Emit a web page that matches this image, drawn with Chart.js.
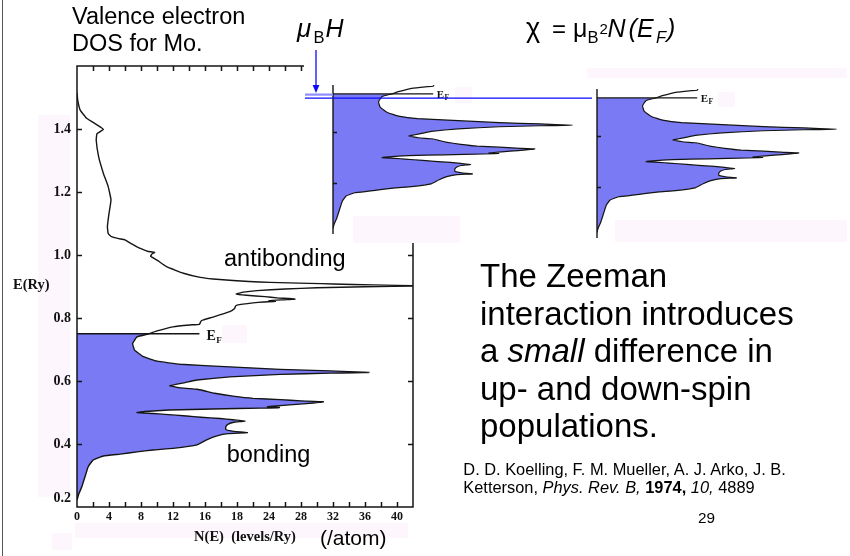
<!DOCTYPE html>
<html>
<head>
<meta charset="utf-8">
<script src="https://cdn.jsdelivr.net/npm/chart.js@4.4.1/dist/chart.umd.min.js"></script>
<style>
  html, body { margin: 0; padding: 0; background: #fff; overflow: hidden; }
  #slide { position: relative; width: 850px; height: 556px; overflow: hidden; background: #fff; }
  .abs { position: absolute; left: 0; top: 0; }
  svg text { font-family: "Liberation Sans", Arial, sans-serif; fill: #000; }
  svg text.serif { font-family: "Liberation Serif", "Times New Roman", serif; font-weight: bold; fill: #111; }
  svg text.it { font-style: italic; }
</style>
</head>
<body>
<div id="slide">
  <!-- faint label patches and the slide's left rule -->
  <svg class="abs" width="850" height="556">
    <line x1="2.5" y1="0" x2="2.5" y2="556" stroke="#555" stroke-width="1"/>
    <g fill="#fdf7fd">
      <rect x="38" y="115" width="32" height="382"/>
      <rect x="75" y="523" width="333" height="15"/>
      <rect x="52" y="533" width="20" height="17"/>
      <rect x="222" y="325" width="25" height="18"/>
    </g>
  </svg>

  <canvas id="dosMain" class="abs" width="850" height="556"></canvas>

  <div class="abs" style="left:303.5px;top:58px;width:547px;height:185px;background:#fff"></div>
  <svg class="abs" width="850" height="556">
    <g fill="#fdf7fd">
      <rect x="353" y="216" width="107" height="27"/>
      <rect x="615" y="220" width="232" height="22"/>
      <rect x="587" y="68" width="260" height="10"/>
      <rect x="455" y="87" width="17" height="16"/>
      <rect x="718" y="92" width="17" height="15"/>
    </g>
  </svg>

  <canvas id="dosSpinUp" class="abs" width="264" height="149" style="left:331px;top:85px"></canvas>
  <canvas id="dosSpinDown" class="abs" width="264" height="149" style="left:595px;top:89px"></canvas>

  <svg class="abs" width="850" height="556">
    <!-- Zeeman shift markers -->
    <line x1="305" y1="94.6" x2="333" y2="94.6" stroke="#8c8cff" stroke-width="2.2"/>
    <line x1="305" y1="98.2" x2="592" y2="98.2" stroke="#0a0aff" stroke-width="1.3"/>
    <line x1="316" y1="50" x2="316" y2="87" stroke="#0a0aff" stroke-width="1.3"/>
    <polygon points="312.6,85 319.4,85 316,93" fill="#0a0aff"/>

    <text x="72" y="24" font-size="23.5">Valence electron</text>
    <text x="72" y="50.7" font-size="23.5">DOS for Mo.</text>

    <!-- μB H -->
    <text class="it" x="297" y="37.3" font-size="26">μ</text>
    <text x="313.5" y="43.3" font-size="16.5">B</text>
    <text class="it" x="325.5" y="37.3" font-size="25">H</text>

    <!-- χ = μB² N(E_F) -->
    <text x="526" y="37.3" font-size="27">χ</text>
    <text x="552" y="37.3" font-size="24">=</text>
    <text x="573" y="37.3" font-size="25">μ</text>
    <text x="587.5" y="43.3" font-size="16.5">B</text>
    <text x="599.5" y="34" font-size="15">2</text>
    <text class="it" x="607.5" y="37.3" font-size="25">N</text>
    <text class="it" x="628.5" y="37.3" font-size="25">(</text>
    <text class="it" x="637" y="37.3" font-size="25">E</text>
    <text class="it" x="656" y="43.3" font-size="16.5">F</text>
    <text class="it" x="667" y="37.3" font-size="25">)</text>

    <text x="224" y="266" font-size="23.5">antibonding</text>
    <text x="226.7" y="461.7" font-size="23.5">bonding</text>

    <text x="480" y="287.3" font-size="33">The Zeeman</text>
    <text x="480" y="324.7" font-size="33">interaction introduces</text>
    <text x="480" y="362.1" font-size="33">a <tspan font-style="italic">small</tspan> difference in</text>
    <text x="480" y="399.5" font-size="33">up- and down-spin</text>
    <text x="480" y="436.9" font-size="33">populations.</text>

    <text x="463.3" y="475" font-size="16.4">D. D. Koelling, F. M. Mueller, A. J. Arko, J. B.</text>
    <text x="463.3" y="493.3" font-size="16.4">Ketterson, <tspan font-style="italic">Phys. Rev. B,</tspan> <tspan font-weight="bold">1974,</tspan> <tspan font-style="italic">10,</tspan> 4889</text>

    <text x="698" y="522.7" font-size="15.3">29</text>
    <text x="320" y="545" font-size="21">(/atom)</text>

    <text class="serif" x="13" y="289" font-size="14.5">E(Ry)</text>
  </svg>
</div>

<script>
// Valence-band density of states of Mo: energy (Ry) and N(E) (levels/Ry per atom)
const energies = [0.222,0.240,0.264,0.296,0.328,0.349,0.362,0.368,0.375,0.381,0.386,0.397,0.413,0.426,0.433,0.436,0.440,0.446,0.455,0.463,0.469,0.473,0.477,0.481,0.485,0.489,0.494,0.497,0.500,0.503,0.508,0.511,0.514,0.516,0.518,0.520,0.525,0.530,0.534,0.537,0.541,0.545,0.552,0.561,0.567,0.570,0.574,0.578,0.585,0.595,0.603,0.613,0.621,0.625,0.627,0.632,0.637,0.645,0.653,0.663,0.677,0.698,0.719,0.740,0.750,0.759,0.772,0.778,0.780,0.790,0.794,0.803,0.820,0.830,0.837,0.841,0.848,0.851,0.853,0.855,0.858,0.860,0.864,0.868,0.872,0.876,0.882,0.887,0.892,0.896,0.899,0.902,0.905,0.908,0.910,0.913,0.916,0.919,0.924,0.929,0.942,0.963,0.984,0.996,1.004,1.008,1.012,1.020,1.026,1.040,1.048,1.052,1.058,1.068,1.090,1.132,1.175,1.217,1.259,1.312,1.365,1.385,1.399,1.405,1.413,1.434,1.460,1.490,1.515];
const dosValues = [0,0.2,0.6,1.0,1.4,2.0,3.3,5.4,7.5,9.5,12.0,15.0,16.2,17.5,18.9,21.3,19.6,18.6,18.6,18.9,19.6,21.0,19.5,17.9,15.5,13.7,11.0,9.5,7.5,8.5,11.5,17.0,23.0,25.3,23.8,24.5,27.0,29.5,30.8,28.0,25.4,22.0,19.5,17.2,16.2,15.8,15.0,13.0,11.6,13.5,15.0,19.1,25.4,31.6,36.5,31.6,25.4,19.1,12.9,10.0,8.3,7.2,6.95,7.5,9.0,10.0,12.0,14.1,15.3,15.5,15.8,17.0,19.1,19.7,19.8,20.0,22.0,23.3,24.8,24.0,26.0,27.25,25.0,23.5,21.2,19.9,20.8,22.5,26.0,30.0,36.0,43.0,37.0,32.0,29.0,24.1,21.5,19.5,17.0,15.4,13.3,11.2,10.0,9.2,9.4,9.7,8.8,8.0,7.5,6.5,6.0,5.2,4.3,3.9,3.8,4.0,4.25,3.9,3.3,2.7,2.4,2.5,3.3,3.0,2.5,1.2,0.4,0.1,0];

const fermiEnergy = 0.75;     // Ry
const fermiLineEnd = 15.3;    // length of the E_F marker, levels/Ry

const xTickLabels = ['0','4','8','12','16','18','24','28','32','36','40'];
const yTickLabels = ['0.2','0.4','0.6','0.8','1.0','1.2','1.4'];
const xAxisTitle = 'N(E)  (levels/Ry)';

const fillBlue = '#7a7af4';
const inkColor = '#151515';

const dosPoints = energies.map((e, i) => ({ x: dosValues[i], y: e }));
const occupiedPoints = dosPoints.filter(p => p.y <= fermiEnergy);

Chart.defaults.font.family = "'Liberation Serif', 'Times New Roman', serif";
Chart.defaults.color = '#111';

// Frame, inward tick marks and the Fermi-level marker
const dosFrame = {
  id: 'dosFrame',
  afterDatasetsDraw(chart, args, o) {
    const { ctx, chartArea: a, scales: { x, y } } = chart;
    ctx.save();
    ctx.strokeStyle = inkColor;
    ctx.lineWidth = o.lineWidth;
    ctx.beginPath();
    if (o.box) {
      ctx.rect(a.left, a.top, a.right - a.left, a.bottom - a.top);
    } else {
      ctx.moveTo(a.left, a.top);
      ctx.lineTo(a.left, a.bottom);
    }
    ctx.stroke();

    const L = o.tickLen;
    ctx.beginPath();
    if (o.box) {
      for (const t of x.ticks) {
        if (t.value <= x.min + 1e-9 || t.value >= x.max - 1e-9) continue;
        const px = Math.round(x.getPixelForValue(t.value)) + 0.5;
        ctx.moveTo(px, a.bottom); ctx.lineTo(px, a.bottom - L);
        ctx.moveTo(px, a.top);    ctx.lineTo(px, a.top + L);
      }
    }
    for (const t of y.ticks) {
      if (t.value <= y.min + 1e-9 || t.value >= y.max - 1e-9) continue;
      const py = Math.round(y.getPixelForValue(t.value)) + 0.5;
      ctx.moveTo(a.left, py); ctx.lineTo(a.left + L, py);
      if (o.box) { ctx.moveTo(a.right, py); ctx.lineTo(a.right - L, py); }
    }
    ctx.stroke();

    const yF = y.getPixelForValue(fermiEnergy);
    const xEnd = x.getPixelForValue(fermiLineEnd);
    ctx.lineWidth = o.fermiWidth;
    ctx.beginPath();
    ctx.moveTo(a.left, yF);
    ctx.lineTo(xEnd, yF);
    ctx.stroke();

    ctx.fillStyle = inkColor;
    ctx.textAlign = 'left';
    ctx.textBaseline = 'alphabetic';
    ctx.font = o.labelFont;
    const lx = xEnd + o.labelDx, ly = yF + o.labelDy;
    ctx.fillText('E', lx, ly);
    const w = ctx.measureText('E').width;
    ctx.font = o.subFont;
    ctx.fillText('F', lx + w + 0.5, ly + o.subDy);
    ctx.restore();
  }
};

function dosDatasets(lineWidth) {
  return [
    { label: 'occupied', data: occupiedPoints, indexAxis: 'y', showLine: true, fill: 'origin',
      backgroundColor: fillBlue, borderWidth: 0, pointRadius: 0, tension: 0.1, order: 1 },
    { label: 'N(E)', data: dosPoints, indexAxis: 'y', showLine: true, fill: false,
      borderColor: inkColor, borderWidth: lineWidth, pointRadius: 0, tension: 0.1, order: 0 }
  ];
}

new Chart(document.getElementById('dosMain'), {
  type: 'scatter',
  data: { datasets: dosDatasets(1.4) },
  options: {
    indexAxis: 'y',
    responsive: false,
    animation: false,
    events: [],
    layout: { padding: { left: 0, top: 66, right: 437, bottom: 0 } },
    plugins: {
      legend: { display: false },
      tooltip: { enabled: false },
      dosFrame: { box: true, lineWidth: 1.5, tickLen: 5, fermiWidth: 1.4,
        labelFont: "bold 14px 'Liberation Serif'", subFont: "bold 9px 'Liberation Serif'",
        labelDx: 7, labelDy: 6.5, subDy: 2.4 }
    },
    scales: {
      x: {
        type: 'linear', position: 'bottom', min: 0, max: 42,
        grid: { display: false, drawTicks: false },
        border: { display: false },
        ticks: {
          stepSize: 2, autoSkip: false, maxRotation: 0, minRotation: 0, padding: 3,
          font: { size: 12, weight: 'bold' }, color: '#111',
          callback: (v) => (v % 4 === 0 && v / 4 < xTickLabels.length) ? xTickLabels[v / 4] : ''
        },
        title: { display: true, text: xAxisTitle, color: '#111',
          font: { size: 14.5, weight: 'bold' }, padding: { top: 0, bottom: 10.5 } },
        afterFit: (s) => { s.height = 49; }
      },
      y: {
        type: 'linear', min: 0.2, max: 1.6,
        grid: { display: false, drawTicks: false },
        border: { display: false },
        ticks: {
          stepSize: 0.2, autoSkip: false, padding: 6,
          font: { size: 14, weight: 'bold' }, color: '#111',
          callback: (v) => {
            const i = Math.round((v - 0.2) / 0.2);
            if (i < 0 || i >= yTickLabels.length) return '';
            return i === 0 ? [yTickLabels[0], ''] : yTickLabels[i];
          }
        },
        afterFit: (s) => { s.width = 77; }
      }
    }
  },
  plugins: [dosFrame]
});

// Spin-split copies of the occupied band
function insetChart(id) {
  return new Chart(document.getElementById(id), {
    type: 'scatter',
    data: { datasets: dosDatasets(1.2) },
    options: {
      indexAxis: 'y',
      responsive: false,
      animation: false,
      events: [],
      layout: { padding: { left: 2, top: 0, right: 0, bottom: 0 } },
      plugins: {
        legend: { display: false },
        tooltip: { enabled: false },
        dosFrame: { box: false, lineWidth: 1.4, tickLen: 4, fermiWidth: 1.2,
          labelFont: "bold 11px 'Liberation Serif'", subFont: "bold 7.5px 'Liberation Serif'",
          labelDx: 3.5, labelDy: 4.5, subDy: 2 }
      },
      scales: {
        x: { type: 'linear', display: false, min: 0, max: 40 },
        y: { type: 'linear', display: false, min: 0.2, max: 0.785, ticks: { stepSize: 0.2 } }
      }
    },
    plugins: [dosFrame]
  });
}
insetChart('dosSpinUp');
insetChart('dosSpinDown');
</script>
</body>
</html>
